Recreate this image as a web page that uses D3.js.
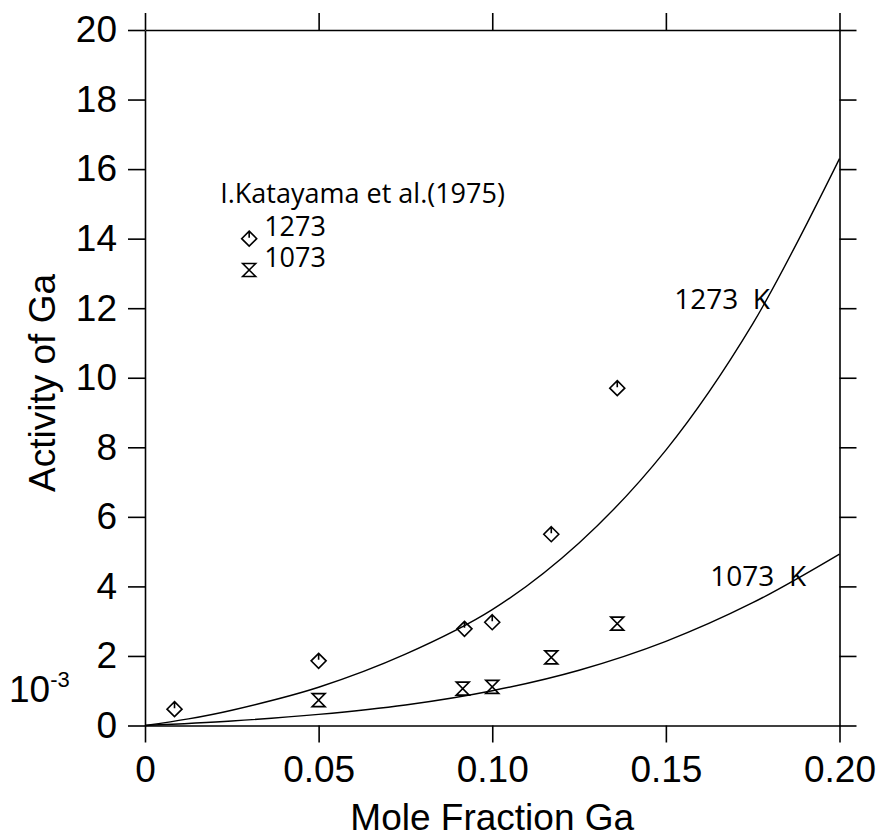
<!DOCTYPE html>
<html>
<head>
<meta charset="utf-8">
<script src="https://cdn.jsdelivr.net/npm/d3@7"></script>
<style>
  html, body { margin: 0; padding: 0; background: #fff; }
  svg { display: block; }
</style>
</head>
<body>
<svg id="chart" width="877" height="839"></svg>
<script>
// ---- data ----
const xTicks = [0, 0.05, 0.10, 0.15, 0.20];
const xTickLabels = ["0", "0.05", "0.10", "0.15", "0.20"];
const yTicks = [0, 2, 4, 6, 8, 10, 12, 14, 16, 18, 20];
const yTickLabels = ["0", "2", "4", "6", "8", "10", "12", "14", "16", "18", "20"];

// calculated curves (activity x 10^-3)
const curve1273 = [
  [0, 0], [0.0125, 0.19], [0.025, 0.44], [0.05, 1.10], [0.075, 2.05], [0.10, 3.33],
  [0.125, 5.25], [0.15, 7.92], [0.175, 11.55], [0.20, 16.3]
];
const curve1073 = [
  [0, 0], [0.025, 0.13], [0.05, 0.32], [0.075, 0.59], [0.10, 1.0],
  [0.125, 1.59], [0.15, 2.42], [0.175, 3.53], [0.20, 4.93]
];

// I. Katayama et al. (1975) measured points
const pts1273 = [
  [0.0085, 0.47], [0.05, 1.86], [0.092, 2.78], [0.10, 2.97], [0.117, 5.50], [0.136, 9.70]
];
const pts1073 = [
  [0.05, 0.73], [0.0915, 1.06], [0.10, 1.11], [0.117, 1.96], [0.136, 2.93]
];

// legend entries: [x, y] in data units, label
const legendTitle = "I.Katayama et al.(1975)";
const legend1273 = { pos: [0.030, 14.0], label: "1273" };
const legend1073 = { pos: [0.030, 13.1], label: "1073" };

const curveLabels = [
  { text: "1273  K", pos: [0.1524, 11.97] },
  { text: "1073  K", pos: [0.1628, 4.01] }
];
const titleX = "Mole Fraction Ga";
const titleY = "Activity of Ga";

// ---- layout ----
const svg = d3.select("#chart");
const mLeft = 145, mRight = 839.5, mTop = 30, mBottom = 725.5;
const x = d3.scaleLinear().domain([0, 0.20]).range([mLeft, mRight]);
const y = d3.scaleLinear().domain([0, 20]).range([mBottom, mTop]);

const axisFont = "'Liberation Sans', Arial, sans-serif";
const noteFont = "'Open Sans', 'Noto Sans', sans-serif";
const tickLen = 17;

function styleAxis(g) {
  g.attr("font-family", null).attr("font-size", null);
  g.selectAll("path.domain").attr("stroke", "#000").attr("stroke-width", 1.6);
  g.selectAll(".tick line").attr("stroke", "#000").attr("stroke-width", 1.6);
  g.selectAll(".tick text").attr("fill", "#000")
    .style("font-family", axisFont).style("font-size", "37px");
}

svg.append("g").attr("transform", `translate(0,${mBottom})`)
  .call(d3.axisBottom(x).tickValues(xTicks).tickSize(tickLen).tickSizeOuter(0).tickPadding(13)
    .tickFormat((d, i) => xTickLabels[i]))
  .call(styleAxis);
svg.append("g").attr("transform", `translate(0,${mTop})`)
  .call(d3.axisTop(x).tickValues(xTicks).tickSize(tickLen).tickSizeOuter(0).tickFormat(() => ""))
  .call(styleAxis);
svg.append("g").attr("transform", `translate(${mLeft},0)`)
  .call(d3.axisLeft(y).tickValues(yTicks).tickSize(tickLen).tickSizeOuter(0).tickPadding(11)
    .tickFormat((d, i) => yTickLabels[i]))
  .call(styleAxis);
svg.append("g").attr("transform", `translate(${mRight},0)`)
  .call(d3.axisRight(y).tickValues(yTicks).tickSize(tickLen).tickSizeOuter(0).tickFormat(() => ""))
  .call(styleAxis);

// ---- curves ----
const line = d3.line().x(d => x(d[0])).y(d => y(d[1])).curve(d3.curveCatmullRom.alpha(0.5));
[curve1273, curve1073].forEach(c => {
  svg.append("path").datum(c).attr("d", line)
    .attr("fill", "none").attr("stroke", "#000").attr("stroke-width", 1.4);
});

// ---- markers ----
const diamondPath = "M0,-7.5 L7.5,0 L0,7.5 L-7.5,0 Z M0,-7.5 L0,-1";
const hourglassPath = "M-6.5,-6.5 L6.5,-6.5 L-6.5,6.5 L6.5,6.5 Z";

function drawMarkers(data, path) {
  svg.append("g").selectAll("path").data(data).join("path")
    .attr("transform", d => `translate(${x(d[0])},${y(d[1])})`)
    .attr("d", path)
    .attr("fill", "none").attr("stroke", "#000").attr("stroke-width", 1.6)
    .attr("stroke-linejoin", "miter");
}
drawMarkers(pts1273, diamondPath);
drawMarkers(pts1073, hourglassPath);

// ---- legend ----
drawMarkers([legend1273.pos], diamondPath);
drawMarkers([legend1073.pos], hourglassPath);
svg.append("text").attr("x", x(legend1273.pos[0]) - 29).attr("y", y(legend1273.pos[1]) - 36)
  .style("font-family", noteFont).style("font-size", "27px").text(legendTitle);
[legend1273, legend1073].forEach(l => {
  svg.append("text").attr("x", x(l.pos[0]) + 15).attr("y", y(l.pos[1]) - 3)
    .style("font-family", noteFont).style("font-size", "27px").text(l.label);
});

// curve labels
curveLabels.forEach(l => {
  svg.append("text").attr("x", x(l.pos[0])).attr("y", y(l.pos[1]))
    .style("font-family", noteFont).style("font-size", "28px")
    .style("white-space", "pre").text(l.text);
});

// ---- titles ----
svg.append("text").attr("x", (mLeft + mRight) / 2).attr("y", 830)
  .attr("text-anchor", "middle")
  .style("font-family", axisFont).style("font-size", "37px").text(titleX);
svg.append("text")
  .attr("transform", `translate(55,383) rotate(-90)`)
  .attr("text-anchor", "middle")
  .style("font-family", axisFont).style("font-size", "37px").text(titleY);

// 10^-3 multiplier
const mult = svg.append("text").attr("x", 9).attr("y", 702)
  .style("font-family", axisFont).style("font-size", "37px");
mult.append("tspan").text("10");
mult.append("tspan").attr("dy", -15).style("font-size", "22px").text("-3");
</script>
</body>
</html>
